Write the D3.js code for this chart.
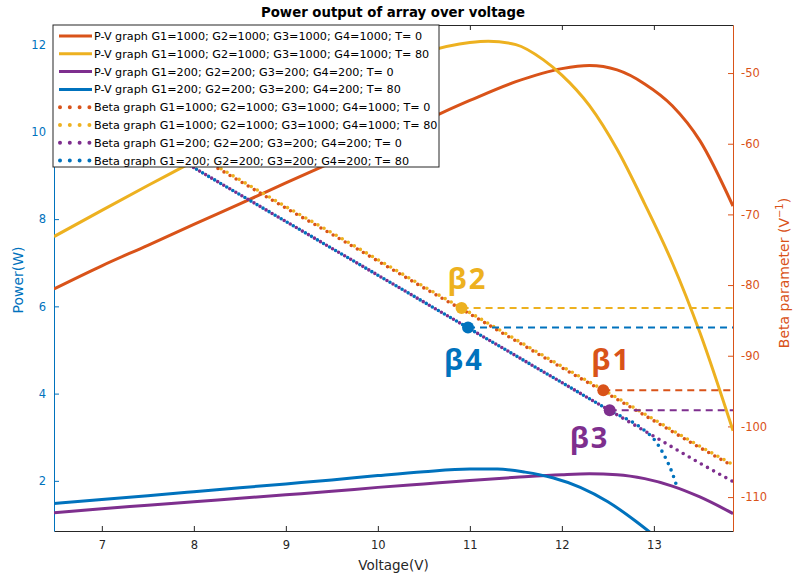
<!DOCTYPE html>
<html><head><meta charset="utf-8">
<script src="https://cdn.jsdelivr.net/npm/d3@7"></script>
<style>body{margin:0;background:#fff}svg{display:block;font-family:"DejaVu Sans",sans-serif}</style>
</head><body><svg id="c" width="794" height="577"></svg>
<script>
// ---------- data ----------
const xTicks = [7, 8, 9, 10, 11, 12, 13];
const leftTicks = [2, 4, 6, 8, 10, 12];
const rightTicks = [-110, -100, -90, -80, -70, -60, -50];

// P-V graphs (Power, W)
const pvRedV    = [6.48, 7, 7.5, 8, 8.5, 9, 9.5, 10, 10.5, 11, 11.5, 12, 12.3, 12.6, 12.9, 13.2, 13.5, 13.86];
const pvRedP    = [6.4, 6.93, 7.4, 7.88, 8.35, 8.83, 9.3, 9.78, 10.25, 10.72, 11.15, 11.45, 11.52, 11.42, 11.1, 10.6, 9.8, 8.3];
const pvYellowV = [6.48, 7, 7.5, 8, 8.5, 9, 9.5, 10, 10.5, 11, 11.2, 11.5, 11.8, 12, 12.3, 12.6, 12.9, 13.2, 13.5, 13.86];
const pvYellowP = [7.6, 8.2, 8.77, 9.33, 9.9, 10.45, 10.95, 11.42, 11.82, 12.05, 12.08, 12.0, 11.65, 11.3, 10.6, 9.6, 8.35, 7.0, 5.4, 3.15];
const pvPurpleV = [6.48, 7, 7.5, 8, 8.5, 9, 9.5, 10, 10.5, 11, 11.5, 12, 12.3, 12.6, 12.9, 13.2, 13.5, 13.86];
const pvPurpleP = [1.27, 1.36, 1.44, 1.52, 1.6, 1.68, 1.76, 1.85, 1.93, 2.01, 2.08, 2.14, 2.16, 2.14, 2.05, 1.88, 1.63, 1.25];
const pvBlueV   = [6.48, 7, 7.5, 8, 8.5, 9, 9.5, 10, 10.5, 11, 11.3, 11.6, 11.9, 12.2, 12.5, 12.8, 13.0];
const pvBlueP   = [1.48, 1.57, 1.66, 1.75, 1.84, 1.93, 2.02, 2.12, 2.21, 2.27, 2.27, 2.2, 2.07, 1.85, 1.52, 1.08, 0.75];

// Beta graphs (Beta parameter, 1/V)
const betaV       = [6.48, 7, 7.5, 8, 8.5, 9, 9.5, 10, 10.5, 11, 11.5, 12, 12.5, 13, 13.5, 13.86];
const betaRed     = [-50.2, -54.0, -57.8, -61.5, -65.3, -69.1, -72.8, -76.6, -80.4, -84.1, -87.9, -91.7, -95.4, -99.2, -103.0, -105.6];
const betaYellow  = [-50.0, -53.8, -57.5, -61.3, -65.1, -68.9, -72.6, -76.4, -80.2, -83.9, -87.7, -91.5, -95.2, -99.0, -102.8, -105.4];
const betaPurple  = [-52.0, -55.8, -59.6, -63.4, -67.2, -71.0, -74.8, -78.6, -82.4, -86.2, -90.0, -93.8, -97.6, -101.4, -105.2, -107.8];
const betaBlueV   = [6.48, 7, 7.5, 8, 8.5, 9, 9.5, 10, 10.5, 11, 11.5, 12, 12.5, 12.9, 13.0, 13.1, 13.2, 13.25];
const betaBlue    = [-52.0, -55.8, -59.6, -63.4, -67.2, -71.0, -74.8, -78.6, -82.4, -86.2, -90.0, -93.8, -97.6, -100.6, -101.8, -103.8, -106.6, -108.5];

// Marked beta points
const markNames = ["β1", "β2", "β3", "β4"];
const markV     = [12.45, 10.91, 12.52, 10.98];
const markBeta  = [-94.9, -83.25, -97.7, -86.0];

const legendLabels = [
  "P-V graph G1=1000; G2=1000; G3=1000; G4=1000; T= 0",
  "P-V graph G1=1000; G2=1000; G3=1000; G4=1000; T= 80",
  "P-V graph G1=200; G2=200; G3=200; G4=200; T= 0",
  "P-V graph G1=200; G2=200; G3=200; G4=200; T= 80",
  "Beta graph G1=1000; G2=1000; G3=1000; G4=1000; T= 0",
  "Beta graph G1=1000; G2=1000; G3=1000; G4=1000; T= 80",
  "Beta graph G1=200; G2=200; G3=200; G4=200; T= 0",
  "Beta graph G1=200; G2=200; G3=200; G4=200; T= 80"
];

// ---------- drawing ----------
const C = {red:"#D95319", yellow:"#EDB120", purple:"#7E2F8E", blue:"#0072BD", axis:"#262626"};
const FONT = "DejaVu Sans, sans-serif";
const L = 54, R = 733, T = 25, B = 531;
const svg = d3.select("#c");
const x = d3.scaleLinear().domain([6.48, 13.86]).range([L, R]);
const yL = d3.scaleLinear().domain([0.85, 12.45]).range([B, T]);
const yR = d3.scaleLinear().domain([-114.8, -43.2]).range([B, T]);

svg.append("defs").append("clipPath").attr("id","clip")
  .append("rect").attr("x",L).attr("y",T).attr("width",R-L).attr("height",B-T);

// axes
function styleAxis(g, color, fs){
  g.selectAll("path.domain").attr("stroke", color).attr("stroke-width", 1);
  g.selectAll(".tick line").attr("stroke", color);
  g.selectAll(".tick text").attr("fill", color).style("font-size", fs+"px").style("font-family", FONT);
}
const gB = svg.append("g").attr("transform",`translate(0,${B})`)
  .call(d3.axisBottom(x).tickValues(xTicks).tickSizeInner(-5).tickSizeOuter(0).tickPadding(10).tickFormat(d3.format("d")));
styleAxis(gB, C.axis, 11.5);
const gT = svg.append("g").attr("transform",`translate(0,${T})`)
  .call(d3.axisTop(x).tickValues(xTicks).tickSizeInner(-5).tickSizeOuter(0).tickFormat(""));
styleAxis(gT, C.axis, 11.5);
const gL = svg.append("g").attr("transform",`translate(${L},0)`)
  .call(d3.axisLeft(yL).tickValues(leftTicks).tickSizeInner(-5).tickSizeOuter(0).tickPadding(8));
styleAxis(gL, C.blue, 11.5);
const gR = svg.append("g").attr("transform",`translate(${R},0)`)
  .call(d3.axisRight(yR).tickValues(rightTicks).tickSizeInner(-5).tickSizeOuter(0).tickPadding(8).tickFormat(d => String(d)));
styleAxis(gR, C.red, 11.5);

const plot = svg.append("g").attr("clip-path","url(#clip)");
const lineOf = (xs, ys, yS) => d3.line().x((d,i)=>x(xs[i])).y((d,i)=>yS(ys[i])).curve(d3.curveMonotoneX)(xs);

// P-V curves
[[pvRedV,pvRedP,C.red],[pvYellowV,pvYellowP,C.yellow],[pvPurpleV,pvPurpleP,C.purple],[pvBlueV,pvBlueP,C.blue]]
  .forEach(([xs,ys,col]) => plot.append("path").attr("d", lineOf(xs,ys,yL))
    .attr("fill","none").attr("stroke",col).attr("stroke-width",3));

// Beta dotted curves (alternating dot phases so overlapping series interleave)
[[betaV,betaRed,C.red,0],[betaV,betaYellow,C.yellow,3.5],[betaV,betaPurple,C.purple,0],[betaBlueV,betaBlue,C.blue,3.5]]
  .forEach(([xs,ys,col,off]) => plot.append("path").attr("d", lineOf(xs,ys,yR))
    .attr("fill","none").attr("stroke",col).attr("stroke-width",3.6)
    .attr("stroke-dasharray","0 7").attr("stroke-dashoffset",off).attr("stroke-linecap","round"));

// marked beta points with dashed lines
const markColors = [C.red, C.yellow, C.purple, C.blue];
const labelOff = [[-12,-20],[-14,-19],[-40,38],[-24,43]];
markNames.forEach((n,i) => {
  plot.append("line").attr("x1", x(markV[i])).attr("x2", R).attr("y1", yR(markBeta[i])).attr("y2", yR(markBeta[i]))
    .attr("stroke", markColors[i]).attr("stroke-width", 2).attr("stroke-dasharray","7 5");
  plot.append("circle").attr("cx", x(markV[i])).attr("cy", yR(markBeta[i])).attr("r", 6).attr("fill", markColors[i]);
  svg.append("text").attr("x", x(markV[i]) + labelOff[i][0]).attr("y", yR(markBeta[i]) + labelOff[i][1])
    .attr("fill", markColors[i]).style("font-family","Open Sans, sans-serif").style("font-weight","bold")
    .style("font-size","29px").style("letter-spacing","2px")
    .text(n);
});

// legend
const lg = svg.append("g").attr("transform","translate(53,25)");
lg.append("rect").attr("width",386).attr("height",142).attr("fill","#fff").attr("stroke",C.axis).attr("stroke-width",1);
const legColors = [C.red, C.yellow, C.purple, C.blue, C.red, C.yellow, C.purple, C.blue];
legendLabels.forEach((t,i) => {
  const yy = 11 + i*17.8;
  const ln = lg.append("line").attr("x1",6).attr("x2",39).attr("y1",yy).attr("y2",yy).attr("stroke",legColors[i]);
  if (i < 4) ln.attr("stroke-width",3);
  else ln.attr("x1",7).attr("x2",38).attr("stroke-width",4).attr("stroke-dasharray","0 9.8").attr("stroke-linecap","round");
  lg.append("text").attr("x",41).attr("y",yy).attr("dy","0.36em").style("font-size","11.2px").style("font-family",FONT)
    .attr("fill","#000").text(t);
});

// title and axis labels
svg.append("text").attr("x",393).attr("y",17).attr("text-anchor","middle").style("font-weight","bold").style("font-size","13.3px")
  .style("font-family",FONT).text("Power output of array over voltage");
svg.append("text").attr("x",(L+R)/2).attr("y",570).attr("text-anchor","middle").style("font-size","13.5px").style("font-family",FONT)
  .attr("fill",C.axis).text("Voltage(V)");
svg.append("text").attr("transform",`translate(23,280) rotate(-90)`).attr("text-anchor","middle").style("font-size","14px")
  .style("font-family",FONT).attr("fill",C.blue).text("Power(W)");
const rl = svg.append("text").attr("transform",`translate(789,273) rotate(-90)`).attr("text-anchor","middle")
  .style("font-size","14px").style("font-family",FONT).attr("fill",C.red);
rl.append("tspan").text("Beta parameter (V");
rl.append("tspan").attr("dy","-6").style("font-size","10px").text("−1");
rl.append("tspan").attr("dy","6").text(")");
</script></body></html>
